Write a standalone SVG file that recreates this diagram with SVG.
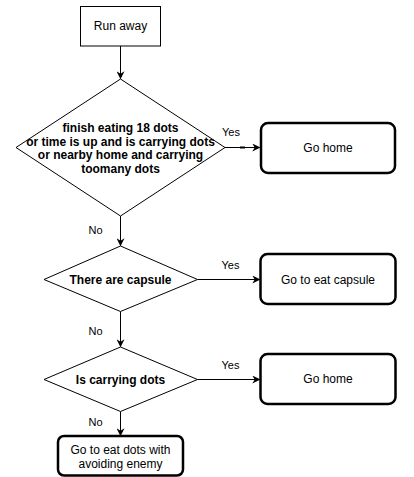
<svg xmlns="http://www.w3.org/2000/svg" width="414" height="477" viewBox="0 0 414 477">
<style>
.box{fill:#fff;stroke:#000;stroke-width:1}
.rbox{fill:#fff;stroke:#000;stroke-width:2.5}
.dia{fill:#fff;stroke:#000;stroke-width:1}
.edge{fill:none;stroke:#000;stroke-width:1}
.t{font-family:"Liberation Sans",Arial,sans-serif;font-size:12px;fill:#000;text-anchor:middle;dominant-baseline:central}
.b{font-weight:bold}
.lbl{font-family:"Liberation Sans",Arial,sans-serif;font-size:11px;fill:#000;text-anchor:middle;dominant-baseline:central}
</style>
<defs>
<marker id="arr" viewBox="0 0 10 10" refX="9" refY="5" markerWidth="8" markerHeight="8" markerUnits="userSpaceOnUse" orient="auto">
<path d="M0,0 L10,5 L0,10 L3,5 Z" fill="#000"/>
</marker>
</defs>
<rect width="414" height="477" fill="#fff"/>
<g id="connectors">
<path class="edge" d="M120.5,46 V78.5" marker-end="url(#arr)"/>
<path class="edge" d="M225,147.5 H259.5" marker-end="url(#arr)"/>
<line x1="240" y1="147.5" x2="245" y2="147.5" stroke="#000" stroke-width="2"/>
<path class="edge" d="M120.5,216 V245.5" marker-end="url(#arr)"/>
<path class="edge" d="M197.5,279.5 H259.5" marker-end="url(#arr)"/>
<path class="edge" d="M120.5,311.5 V346.5" marker-end="url(#arr)"/>
<path class="edge" d="M197.5,379.5 H259.5" marker-end="url(#arr)"/>
<path class="edge" d="M120.5,411.5 V435.5" marker-end="url(#arr)"/>
<text class="lbl" x="231" y="132">Yes</text>
<text class="lbl" x="95.5" y="230">No</text>
<text class="lbl" x="230.5" y="265">Yes</text>
<text class="lbl" x="95.5" y="331">No</text>
<text class="lbl" x="230.5" y="365">Yes</text>
<text class="lbl" x="95.5" y="422">No</text>
</g>
<g id="run-away">
<rect class="box" x="80.5" y="6.5" width="80" height="39.5"/>
<text class="t" x="120.5" y="26">Run away</text>
</g>
<g id="decision-finish">
<path class="dia" d="M120.5,79 L225,147.5 L120.5,216 L16,147.5 Z"/>
<text class="t b" x="120.5" y="128">finish eating 18 dots</text>
<text class="t b" x="120.5" y="141.5">or time is up and is carrying dots</text>
<text class="t b" x="120.5" y="155">or nearby home and carrying</text>
<text class="t b" x="120.5" y="168.5">toomany dots</text>
</g>
<g id="go-home-1">
<rect class="rbox" x="261" y="123" width="134" height="50" rx="7"/>
<text class="t" x="328" y="148">Go home</text>
</g>
<g id="decision-capsule">
<path class="dia" d="M120.5,246 L197.5,279.5 L120.5,311.5 L44,279.5 Z"/>
<text class="t b" x="120.5" y="279.5">There are capsule</text>
</g>
<g id="go-eat-capsule">
<rect class="rbox" x="260.5" y="254" width="135" height="50" rx="7"/>
<text class="t" x="328" y="279.5">Go to eat capsule</text>
</g>
<g id="decision-carrying">
<path class="dia" d="M120.5,347 L197.5,379.5 L120.5,411.5 L44,379.5 Z"/>
<text class="t b" x="120.5" y="379.5">Is carrying dots</text>
</g>
<g id="go-home-2">
<rect class="rbox" x="260.5" y="354" width="135" height="50" rx="7"/>
<text class="t" x="328" y="379">Go home</text>
</g>
<g id="go-eat-dots">
<rect class="rbox" x="58" y="436" width="125" height="39.5" rx="6"/>
<text class="t" x="120.5" y="450">Go to eat dots with</text>
<text class="t" x="120.5" y="463.5">avoiding enemy</text>
</g>
</svg>
